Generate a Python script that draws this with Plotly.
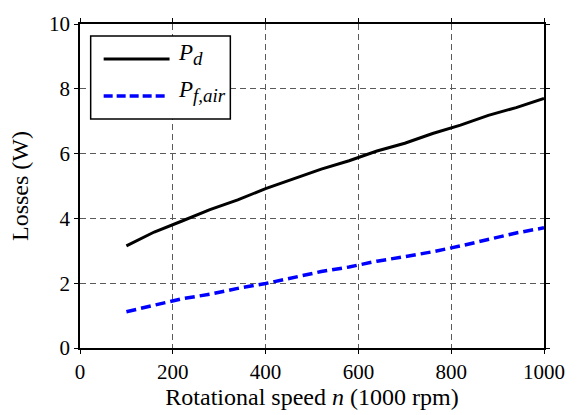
import plotly.graph_objects as go

# Rotational speed (x1000 rpm)
speed = [100, 160, 220, 280, 340, 400, 460, 520, 580, 640, 700, 760, 820, 880, 940, 1000]
# Losses (W)
p_d = [3.15, 3.58, 3.92, 4.27, 4.57, 4.92, 5.22, 5.52, 5.78, 6.08, 6.32, 6.62, 6.88, 7.18, 7.42, 7.70]
p_f_air = [1.12, 1.32, 1.52, 1.66, 1.84, 1.99, 2.17, 2.36, 2.50, 2.68, 2.82, 2.97, 3.15, 3.36, 3.55, 3.71]

x_ticks = [0, 200, 400, 600, 800, 1000]
y_ticks = [0, 2, 4, 6, 8, 10]

FONT = "Liberation Serif"

fig = go.Figure()
fig.add_trace(go.Scatter(x=speed, y=p_d, mode="lines", name="P_d",
                         line=dict(color="black", width=3), showlegend=False))
fig.add_trace(go.Scatter(x=speed, y=p_f_air, mode="lines", name="P_f,air",
                         line=dict(color="#0000ff", width=3.5, dash="10px,5px"),
                         showlegend=False))

# Legend box drawn in paper coordinates
legend_box = dict(x0=0.023, x1=0.324, y0=0.707, y1=0.963)
fig.add_shape(type="rect", xref="paper", yref="paper", **legend_box,
              line=dict(color="black", width=1.5), fillcolor="white", layer="above")
fig.add_shape(type="line", xref="paper", yref="paper", x0=0.051, x1=0.193, y0=0.892, y1=0.892,
              line=dict(color="black", width=3), layer="above")
fig.add_shape(type="line", xref="paper", yref="paper", x0=0.051, x1=0.185, y0=0.778, y1=0.778,
              line=dict(color="#0000ff", width=3.5, dash="9px,4px"), layer="above")
fig.add_annotation(xref="paper", yref="paper", x=0.206, y=0.905, xanchor="left", yanchor="middle",
                   text="<i>P</i><sub><span style='font-size:19px'><i>d</i></span></sub>",
                   showarrow=False, font=dict(family=FONT, size=23, color="black"))
fig.add_annotation(xref="paper", yref="paper", x=0.206, y=0.792, xanchor="left", yanchor="middle",
                   text="<i>P</i><sub><span style='font-size:19px'><i>f,air</i></span></sub>",
                   showarrow=False, font=dict(family=FONT, size=23, color="black"))

axis_common = dict(
    showline=True, linecolor="black", linewidth=1.5, mirror="ticks",
    ticks="outside", ticklen=4, tickcolor="black", tickwidth=1,
    showgrid=True, gridcolor="#5a5a5a", gridwidth=1, griddash="6px,4px",
    zeroline=False, tickfont=dict(family=FONT, size=21, color="black"),
)

fig.update_layout(
    width=577, height=415,
    margin=dict(l=80, r=25, t=15, b=66),
    paper_bgcolor="white", plot_bgcolor="white",
    font=dict(family=FONT, size=21, color="black"),
    xaxis=dict(range=[0, 1000], tickvals=x_ticks, ticktext=[str(v) for v in x_ticks],
               title=dict(text="Rotational speed <i>n</i> (1000 rpm)", standoff=2,
                          font=dict(family=FONT, size=24)),
               **axis_common),
    yaxis=dict(range=[0, 10], tickvals=y_ticks, ticktext=[str(v) for v in y_ticks],
               title=dict(text="Losses (W)", standoff=14, font=dict(family=FONT, size=24)),
               **axis_common),
)

fig.write_html("out.html")
